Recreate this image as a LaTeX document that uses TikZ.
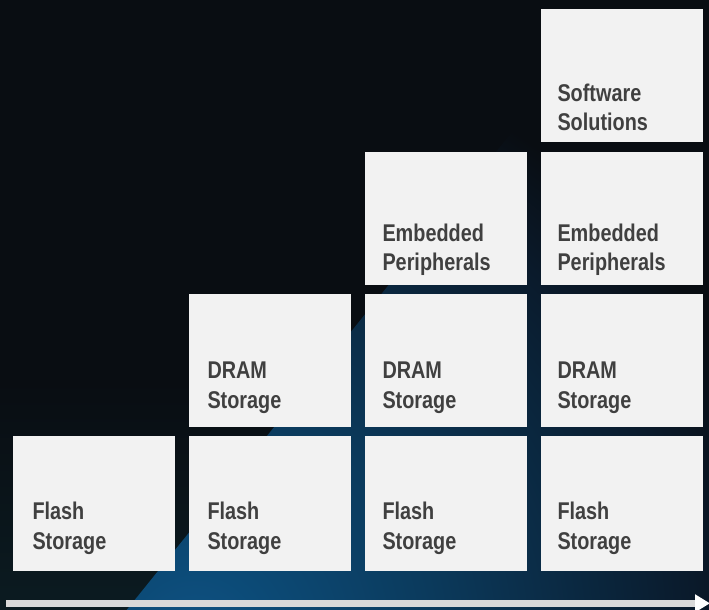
\documentclass[tikz,border=0pt]{standalone}
\usepackage{fontspec}
\newfontfamily\lblfont{Liberation Sans}[FakeStretch=0.82]
\usetikzlibrary{arrows.meta}
\definecolor{c090d12}{RGB}{9,13,18}
\definecolor{c0b1b21}{RGB}{11,27,33}
\definecolor{c0d5283}{RGB}{13,82,131}
\definecolor{c0b3a5c}{RGB}{11,58,92}
\definecolor{c0a1a2b}{RGB}{10,26,43}
\definecolor{cf2f2f2}{RGB}{242,242,242}
\definecolor{c404040}{RGB}{64,64,64}
\definecolor{cd9d9d9}{RGB}{217,217,217}
\pgfdeclareradialshading{streak}{\pgfpoint{0bp}{0bp}}{color(0bp)=(c0d5283);
  color(6bp)=(c0b3a5c); color(12.5bp)=(c0a1a2b); color(15bp)=(c090d12);
  color(50bp)=(c090d12)}

\begin{document}
\begin{tikzpicture}[y=1pt, x=1pt, yscale=-1, inner sep=0pt, outer sep=0pt,
  box/.style={fill=cf2f2f2, minimum width=162pt, minimum height=133pt},
  lbl/.style={anchor=north west, align=left, text=c404040,
    font=\lblfont\bfseries\fontsize{24.2}{29.5}\selectfont}]
  \useasboundingbox (0,0) rectangle (709,610);
  % background
  \path[fill=c090d12] (0,0) rectangle (709,610);
  \shade[top color=c090d12, bottom color=c0b1b21] (0,380) rectangle (709,610);
  \begin{scope}
    \clip (125,612) -- (620,-2) -- (712,-2) -- (712,612) -- cycle;
    \shade[shading=streak] (195,640) circle (1000);
  \end{scope}
  % boxes, bottom row up
  \node[box, minimum height=135pt] (flash1) at (94,503.5) {};
  \node[box, minimum height=135pt] (flash2) at (270,503.5) {};
  \node[box, minimum height=135pt] (flash3) at (446,503.5) {};
  \node[box, minimum height=135pt] (flash4) at (622,503.5) {};
  \node[box] (dram2) at (270,360.3) {};
  \node[box] (dram3) at (446,360.3) {};
  \node[box] (dram4) at (622,360.3) {};
  \node[box] (emb3) at (446,218.5) {};
  \node[box] (emb4) at (622,218.5) {};
  \node[box] (soft4) at (622,75.7) {};
  % labels
  \node[lbl] (tflash1) at (32.5,502) {Flash\\Storage};
  \node[lbl] (tflash2) at (207.5,502) {Flash\\Storage};
  \node[lbl] (tflash3) at (382.5,502) {Flash\\Storage};
  \node[lbl] (tflash4) at (557.5,502) {Flash\\Storage};
  \node[lbl] (tdram2) at (207.5,362) {DRAM\\Storage};
  \node[lbl] (tdram3) at (382.5,362) {DRAM\\Storage};
  \node[lbl] (tdram4) at (557.5,362) {DRAM\\Storage};
  \node[lbl] (temb3) at (382.5,223.5) {Embedded\\Peripherals};
  \node[lbl] (temb4) at (557.5,223.5) {Embedded\\Peripherals};
  \node[lbl] (tsoft4) at (557.5,83.5) {Software\\Solutions};
  % time axis
  \coordinate (axis0) at (6,603.3);
  \coordinate (axis1) at (710,603.3);
  \draw[cd9d9d9, line width=6.5pt, -{Triangle[length=15pt, width=17pt, color=white]}]
    (axis0) -- (axis1);
\end{tikzpicture}
\end{document}
